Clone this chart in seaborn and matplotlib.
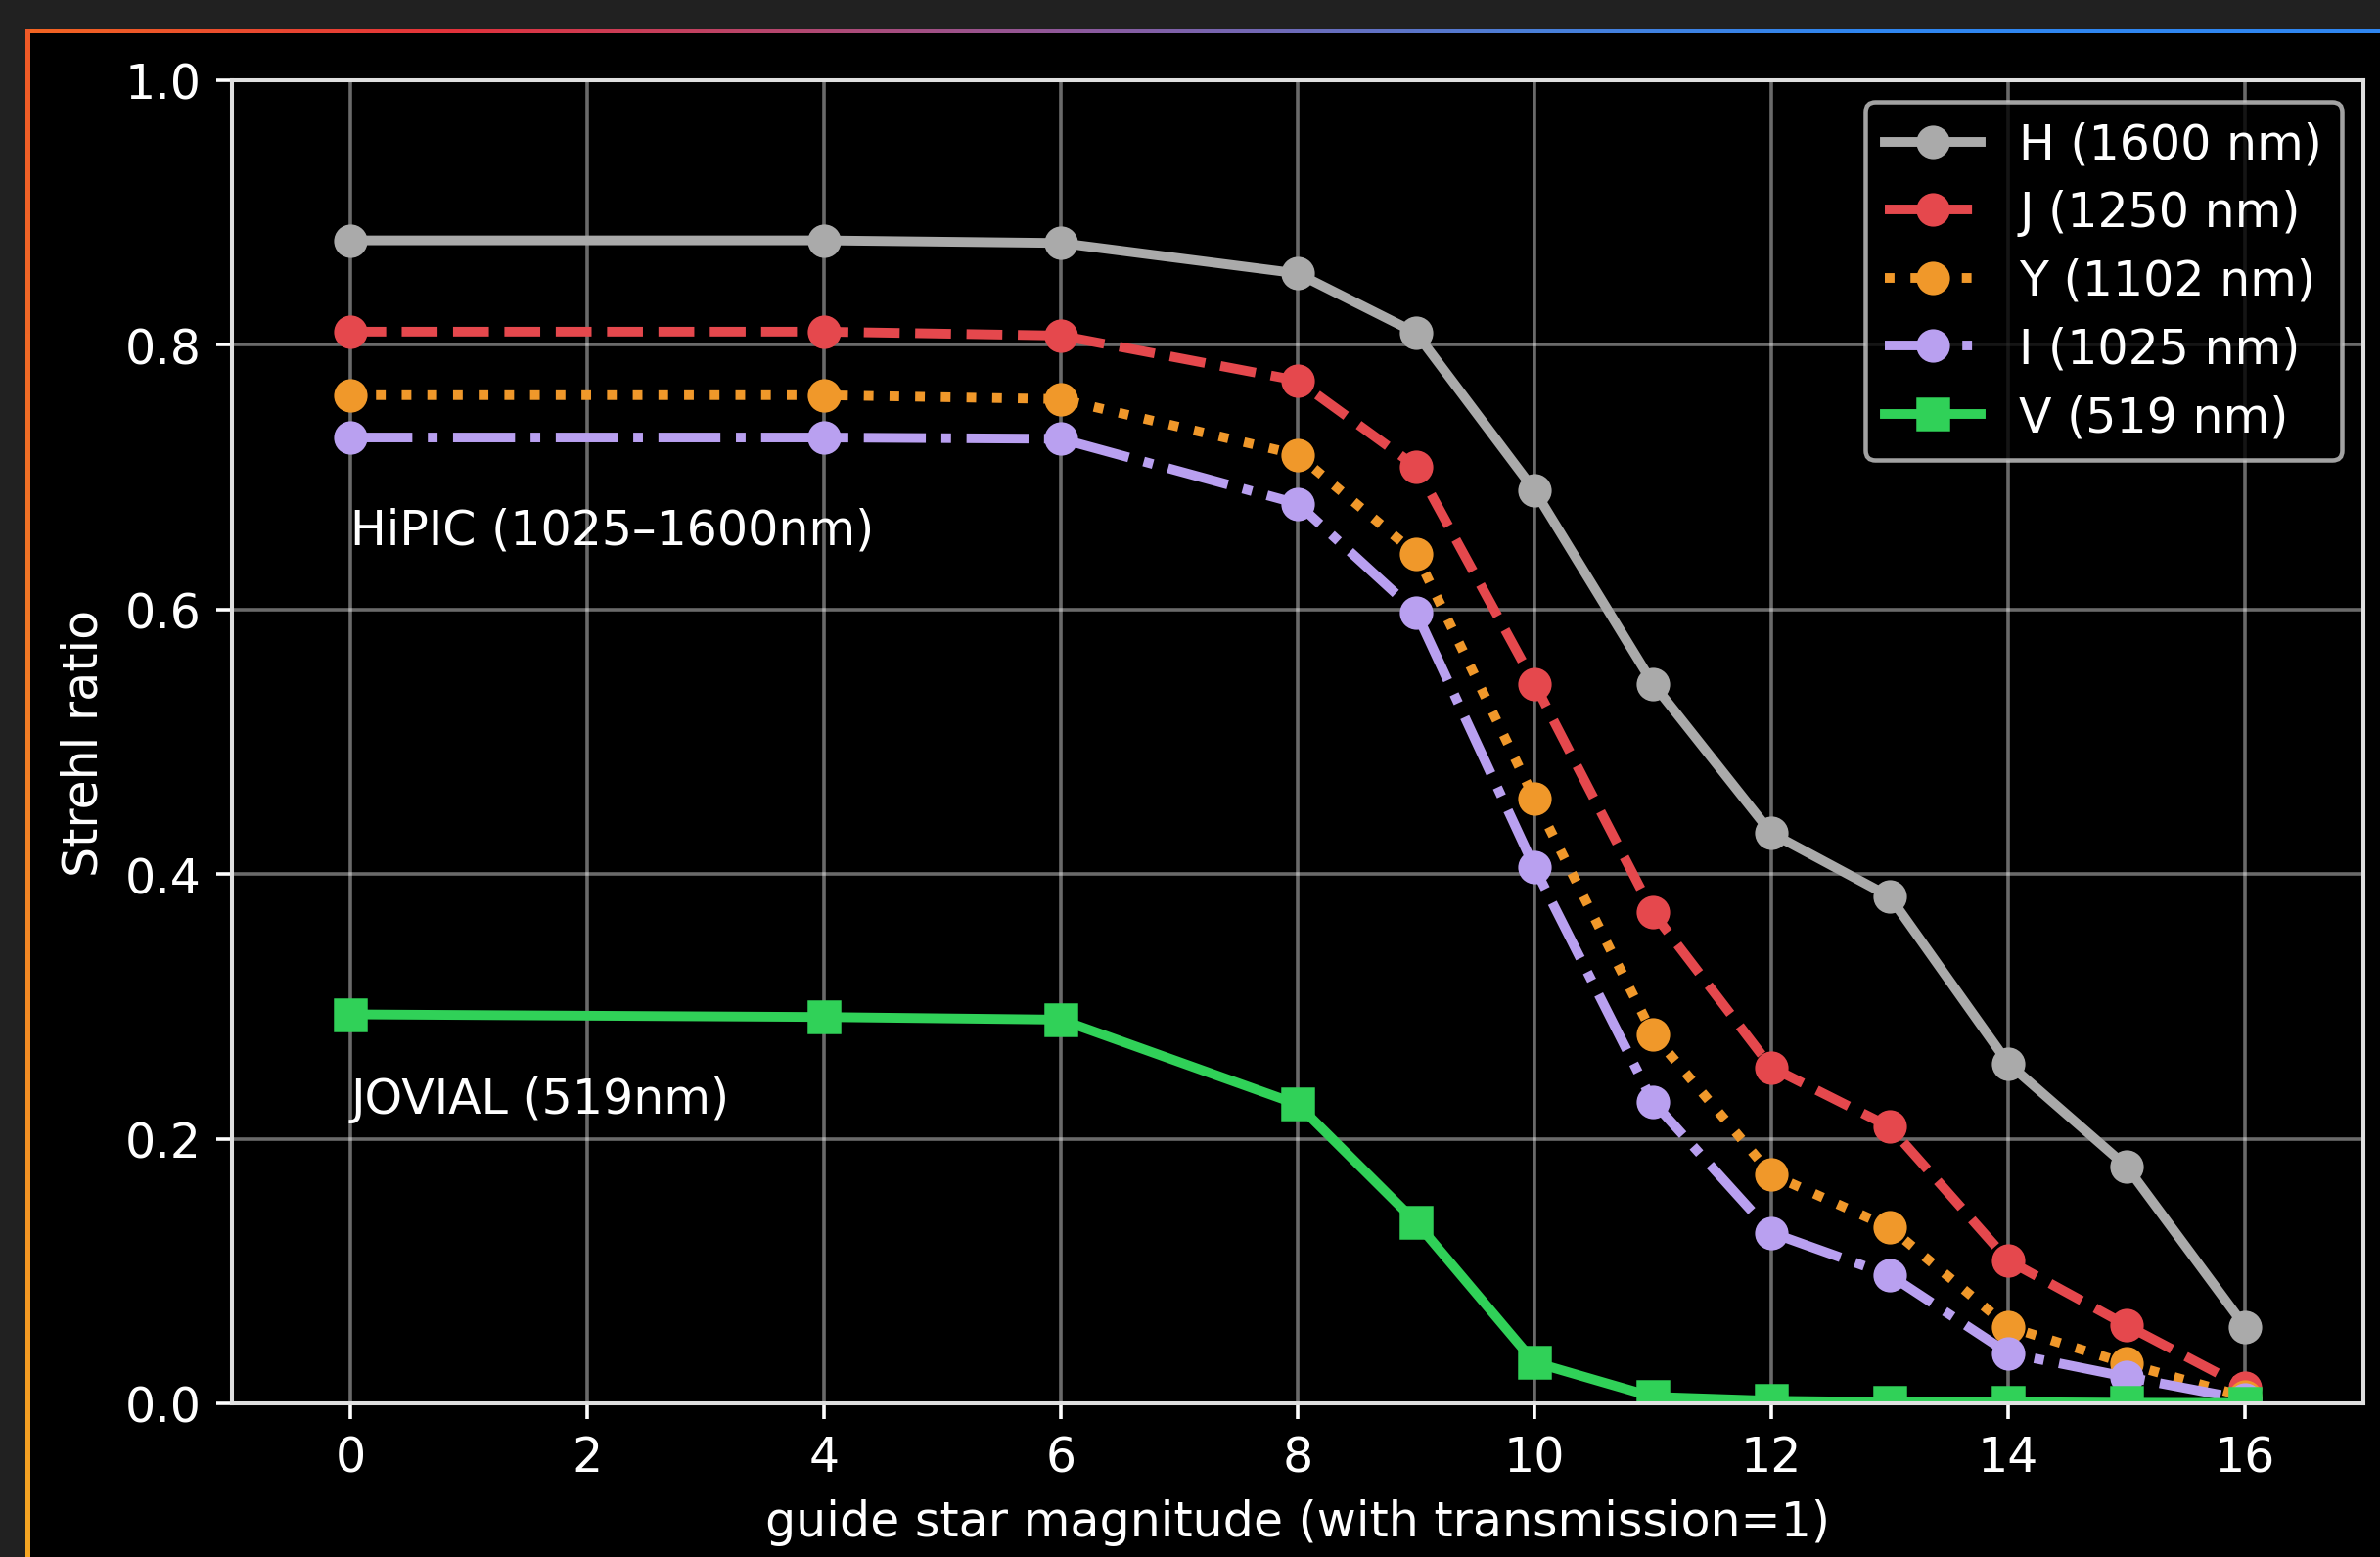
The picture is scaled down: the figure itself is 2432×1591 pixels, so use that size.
import numpy as np
import matplotlib
matplotlib.use("Agg")
import matplotlib.pyplot as plt
from matplotlib.colors import LinearSegmentedColormap
from matplotlib.patches import Rectangle
import seaborn as sns

# ---- data ----
magnitude = [0, 4, 6, 8, 9, 10, 11, 12, 13, 14, 15, 16]
strehl_H = [0.879, 0.879, 0.877, 0.854, 0.809, 0.690, 0.544, 0.431, 0.383, 0.257, 0.179, 0.058]
strehl_J = [0.810, 0.810, 0.807, 0.773, 0.708, 0.544, 0.371, 0.254, 0.209, 0.108, 0.059, 0.012]
strehl_Y = [0.762, 0.762, 0.759, 0.717, 0.642, 0.457, 0.279, 0.173, 0.133, 0.058, 0.030, 0.005]
strehl_I = [0.730, 0.730, 0.729, 0.680, 0.598, 0.405, 0.228, 0.129, 0.097, 0.038, 0.020, 0.003]
strehl_V = [0.294, 0.292, 0.290, 0.226, 0.137, 0.031, 0.005, 0.002, 0.001, 0.001, 0.0005, 0.0003]
labels = ["H (1600 nm)", "J (1250 nm)", "Y (1102 nm)", "I (1025 nm)", "V (519 nm)"]
annotations = ["HiPIC (1025\u20131600nm)", "JOVIAL (519nm)"]

plt.style.use("dark_background")
plt.rcParams["font.family"] = ["DejaVu Sans"]
FS = 10.9
plt.rcParams["font.size"] = FS

W, H = 2432, 1592
DPI = 324
fig = plt.figure(figsize=(W / DPI, H / DPI), dpi=DPI, facecolor="#212121")

# black panel of the screenshot frame
fig.patches.append(Rectangle((31 / W, 0), 1, (H - 35) / H, transform=fig.transFigure,
                             facecolor="black", edgecolor="none", zorder=-10))
# top gradient border
top_cmap = LinearSegmentedColormap.from_list(
    "topb", [(0.0, "#f26522"), (0.18, "#e3323b"), (0.45, "#8c5a9e"),
             (0.64, "#4a7fd9"), (0.78, "#2f86f0"), (1.0, "#2f86f0")])
bax = fig.add_axes([26 / W, (H - 35) / H, 1 - 26 / W, 4 / H])
bax.imshow(np.linspace(0, 1, 512)[None, :], aspect="auto", cmap=top_cmap)
bax.axis("off")
# left gradient border
left_cmap = LinearSegmentedColormap.from_list("leftb", ["#f05a28", "#f5a623"])
lax = fig.add_axes([26 / W, 0, 4.5 / W, (H - 31) / H])
lax.imshow(np.linspace(0, 1, 256)[:, None], aspect="auto", cmap=left_cmap)
lax.axis("off")

ax = fig.add_axes([237 / W, 1 - 1435 / H, (2415 - 237) / W, (1435 - 83) / H])
ax.set_facecolor("black")

series = [
    (strehl_H, "#aaaaaa", "-", "o"),
    (strehl_J, "#e5484d", "--", "o"),
    (strehl_Y, "#f0982a", ":", "o"),
    (strehl_I, "#b9a0f0", "-.", "o"),
    (strehl_V, "#30d158", "-", "s"),
]
for (vals, col, ls, mk), lab in zip(series, labels):
    sns.lineplot(x=magnitude, y=vals, ax=ax, color=col, linestyle=ls, marker=mk,
                 markersize=6.6, markeredgecolor=col, markeredgewidth=1.0,
                 linewidth=2.2, label=lab, errorbar=None, sort=False)

ax.text(0, 0.65, annotations[0], color="white", fontsize=FS)
ax.text(0, 0.22, annotations[1], color="white", fontsize=FS)

ax.set_xlim(-1, 17)
ax.set_ylim(0, 1.0)
ax.set_xticks([0, 2, 4, 6, 8, 10, 12, 14, 16])
ax.set_yticks([0.0, 0.2, 0.4, 0.6, 0.8, 1.0])
ax.grid(True, color="white", alpha=0.42, linewidth=0.8)
ax.set_axisbelow(True)
for sp in ax.spines.values():
    sp.set_color("#e0e0e0")
    sp.set_linewidth(0.9)
ax.tick_params(colors="white", labelsize=FS, length=3.5, width=0.8)
ax.set_xlabel("guide star magnitude (with transmission=1)", fontsize=FS, color="white")
ax.set_ylabel("Strehl ratio", fontsize=FS, color="white")

leg = ax.legend(loc="upper right", fontsize=FS, facecolor="black", edgecolor="#cccccc",
                framealpha=0.8, labelspacing=0.44, borderaxespad=0.45)
for t in leg.get_texts():
    t.set_color("white")

fig.savefig("out.png", dpi=DPI, facecolor=fig.get_facecolor())
